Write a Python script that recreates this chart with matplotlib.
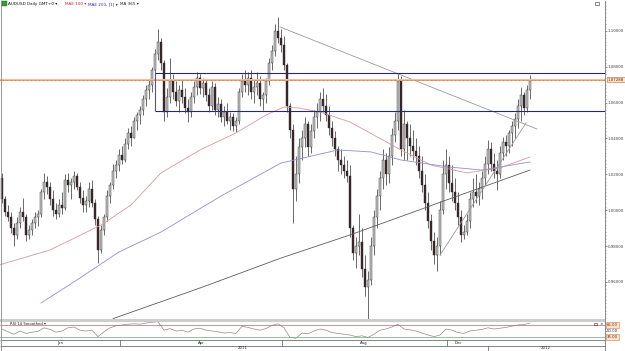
import matplotlib
matplotlib.use("Agg")
import matplotlib.pyplot as plt
from matplotlib.patches import Rectangle
from matplotlib.ticker import MultipleLocator, FixedLocator
import numpy as np

# ---------------- data (AUDUSD daily) ----------------
first_open = 1.018
high = [1.021, 1.008, 1.003, 0.999, 0.993, 0.996, 1.002, 1.007, 0.998, 0.992,
        0.995, 0.999, 1.000, 1.012, 1.021, 1.019, 1.016, 1.011, 1.004, 1.006,
        1.010, 1.020, 1.021, 1.018, 1.022, 1.021, 1.016, 1.011, 1.008, 1.016,
        1.017, 1.006, 0.997, 0.992, 0.998, 1.011, 1.016, 1.026, 1.028, 1.034,
        1.036, 1.040, 1.046, 1.047, 1.052, 1.055, 1.058, 1.064, 1.070, 1.073,
        1.080, 1.090, 1.101, 1.096, 1.084, 1.068, 1.085, 1.076, 1.072, 1.070,
        1.073, 1.068, 1.062, 1.066, 1.072, 1.077, 1.076, 1.074, 1.073, 1.068,
        1.072, 1.071, 1.063, 1.062, 1.058, 1.060, 1.055, 1.054, 1.052, 1.068,
        1.076, 1.078, 1.077, 1.078, 1.073, 1.077, 1.075, 1.066, 1.074, 1.085,
        1.092, 1.104, 1.108, 1.101, 1.097, 1.082, 1.060, 1.048, 1.030, 1.040,
        1.045, 1.052, 1.050, 1.048, 1.056, 1.060, 1.066, 1.068, 1.065, 1.058,
        1.050, 1.044, 1.036, 1.034, 1.030, 1.028, 1.025, 0.992, 0.985, 0.998,
        0.990, 0.975, 0.966, 0.985, 1.000, 1.012, 1.022, 1.034, 1.032, 1.035,
        1.046, 1.055, 1.0765, 1.075, 1.056, 1.050, 1.048, 1.045, 1.040, 1.036,
        1.030, 1.020, 1.010, 0.998, 0.988, 0.985, 1.005, 1.028, 1.034, 1.030,
        1.025, 1.018, 1.010, 1.000, 0.992, 0.998, 1.010, 1.018, 1.020, 1.016,
        1.022, 1.030, 1.039, 1.038, 1.032, 1.028, 1.036, 1.041, 1.042, 1.045,
        1.050, 1.054, 1.062, 1.069, 1.066, 1.070, 1.0755]
low = [1.004, 0.997, 0.994, 0.987, 0.980, 0.984, 0.990, 0.994, 0.983, 0.984,
       0.986, 0.990, 0.991, 0.996, 1.006, 1.009, 1.003, 0.997, 0.995, 0.996,
       0.998, 1.000, 1.010, 1.006, 1.012, 1.011, 1.004, 0.999, 0.999, 1.002,
       1.002, 0.992, 0.9707, 0.976, 0.986, 0.994, 1.004, 1.012, 1.018, 1.022,
       1.026, 1.027, 1.034, 1.036, 1.040, 1.045, 1.048, 1.053, 1.058, 1.062,
       1.066, 1.075, 1.084, 1.078, 1.050, 1.052, 1.060, 1.062, 1.058, 1.055,
       1.060, 1.054, 1.049, 1.052, 1.060, 1.064, 1.065, 1.063, 1.061, 1.055,
       1.056, 1.053, 1.052, 1.049, 1.047, 1.048, 1.045, 1.044, 1.0436, 1.048,
       1.063, 1.066, 1.064, 1.062, 1.060, 1.064, 1.058, 1.056, 1.060, 1.070,
       1.078, 1.086, 1.093, 1.088, 1.078, 1.055, 1.040, 0.993, 1.005, 1.015,
       1.028, 1.035, 1.030, 1.032, 1.040, 1.046, 1.050, 1.055, 1.050, 1.042,
       1.036, 1.030, 1.022, 1.020, 1.018, 1.016, 0.985, 0.972, 0.968, 0.975,
       0.963, 0.952, 0.9387, 0.958, 0.975, 0.990, 1.000, 1.012, 1.014, 1.015,
       1.025, 1.038, 1.045, 1.030, 1.028, 1.028, 1.030, 1.028, 1.025, 1.018,
       1.010, 1.000, 0.990, 0.978, 0.970, 0.966, 0.975, 0.998, 1.012, 1.010,
       1.005, 1.000, 0.992, 0.982, 0.984, 0.986, 0.990, 1.002, 1.004, 1.003,
       1.006, 1.014, 1.020, 1.022, 1.018, 1.011, 1.018, 1.028, 1.030, 1.032,
       1.036, 1.040, 1.046, 1.050, 1.053, 1.055, 1.062]
close = [1.006, 0.999, 0.996, 0.990, 0.986, 0.993, 0.999, 0.996, 0.986, 0.989,
         0.993, 0.996, 0.998, 1.010, 1.016, 1.013, 1.006, 1.000, 0.998, 1.003,
         1.001, 1.017, 1.014, 1.016, 1.019, 1.013, 1.007, 1.003, 1.005, 1.012,
         1.004, 0.995, 0.978, 0.989, 0.996, 1.008, 1.014, 1.022, 1.025, 1.031,
         1.028, 1.037, 1.043, 1.040, 1.050, 1.053, 1.056, 1.062, 1.067, 1.070,
         1.078, 1.087, 1.094, 1.082, 1.055, 1.063, 1.072, 1.066, 1.061, 1.067,
         1.063, 1.057, 1.055, 1.063, 1.069, 1.074, 1.068, 1.071, 1.064, 1.058,
         1.069, 1.056, 1.059, 1.052, 1.055, 1.050, 1.052, 1.047, 1.050, 1.066,
         1.072, 1.070, 1.074, 1.066, 1.069, 1.071, 1.062, 1.064, 1.072, 1.082,
         1.089, 1.100, 1.096, 1.092, 1.081, 1.058, 1.045, 1.012, 1.020, 1.035,
         1.040, 1.048, 1.035, 1.044, 1.052, 1.055, 1.062, 1.058, 1.053, 1.046,
         1.040, 1.034, 1.028, 1.025, 1.022, 1.019, 0.990, 0.976, 0.980, 0.982,
         0.967, 0.957, 0.961, 0.980, 0.996, 1.008, 1.018, 1.028, 1.020, 1.030,
         1.042, 1.050, 1.072, 1.034, 1.048, 1.040, 1.036, 1.033, 1.030, 1.022,
         1.014, 1.004, 0.994, 0.983, 0.975, 0.980, 1.000, 1.020, 1.025, 1.015,
         1.010, 1.004, 0.996, 0.986, 0.988, 0.994, 1.006, 1.010, 1.008, 1.012,
         1.018, 1.026, 1.034, 1.026, 1.022, 1.020, 1.032, 1.038, 1.036, 1.043,
         1.047, 1.051, 1.058, 1.064, 1.057, 1.067, 1.072]

# moving averages (bar index, price)
ma100_x = [-1, 16, 33, 43, 53, 66, 78, 88, 94, 99, 106, 116, 133, 143, 155, 166, 176]
ma100_v = [0.9694, 0.9778, 0.9917, 1.0029, 1.0208, 1.0336, 1.0431, 1.0531, 1.0576,
           1.0570, 1.0548, 1.0492, 1.0336, 1.0252, 1.0208, 1.0236, 1.0297]
ma200_x = [13, 25, 39, 53, 73, 93, 112, 123, 133, 149, 160, 176]
ma200_v = [0.9482, 0.9611, 0.9767, 0.9878, 1.0079, 1.0263, 1.0336, 1.0325, 1.0280,
           1.0241, 1.0224, 1.0269]
ma365_x = [37, 66, 93, 116, 139, 147, 176]
ma365_v = [0.9395, 0.9566, 0.9733, 0.9862, 1.0001, 1.0050, 1.0224]

# drawn studies
trend_down_x = [92.7, 178.3]
trend_down_v = [1.1022, 1.0453]
trend_up_x = [146, 174.7]
trend_up_v = [0.9750, 1.0487]
box_left = 51
box_top = 1.0766
box_bottom = 1.0554
resist = 1.0729
resist_label = "1.07288"

price_ticks = [0.96, 0.98, 1.00, 1.02, 1.04, 1.06, 1.08, 1.10]
price_tick_labels = ["0.96000", "0.98000", "1.00000", "1.02000", "1.04000",
                     "1.06000", "1.08000", "1.10000"]

# RSI 14 smoothed, every second bar
rsi_x = list(range(0, 177, 2))
rsi_v = [55, 48, 42, 50, 44, 47, 49, 58, 54, 47, 50, 58, 60, 52, 50, 52, 36, 48, 58, 63,
         65, 67, 68, 67, 70, 72, 73, 52, 56, 50, 52, 47, 55, 57, 52, 50, 48, 45, 46, 44,
         62, 59, 55, 52, 56, 64, 68, 58, 34, 32, 45, 43, 50, 55, 52, 46, 44, 42, 40, 36,
         38, 34, 42, 52, 55, 60, 67, 55, 53, 50, 45, 40, 36, 40, 55, 52, 46, 44, 50, 52,
         54, 58, 55, 57, 59, 62, 65, 66, 70]

time_row1 = ["Jan", "Apr", "Aug", "Dec"]
time_row2 = ["2011", "2012"]

# ---------------- figure ----------------
W, H = 625, 351
fig = plt.figure(figsize=(W / 100, H / 100), dpi=100)
fig.patch.set_facecolor("white")

XL = (-2 / 3, 603 / 3)

ax = fig.add_axes([0, 1 - 319 / H, 605 / W, 318 / H])
ax.set_xlim(*XL)
ax.set_ylim(0.9393, 1.1167)
ax.set_facecolor("white")

opens = np.array([first_open] + close[:-1])
c = np.array(close)
h = np.maximum.reduce([np.array(high), opens, c])
l = np.minimum.reduce([np.array(low), opens, c])
idx = np.arange(len(close))
up = c >= opens
ax.vlines(idx, l, h, color="#2e2e2e", lw=0.5, zorder=3)
body_h = np.maximum(np.abs(c - opens), 0.0005)
ax.bar(idx, body_h, bottom=np.minimum(opens, c), width=0.62,
       color=np.where(up, "#c4c4c4", "#3c2424"), edgecolor="#2e2e2e",
       linewidth=0.3, zorder=4)

ax.plot(ma100_x, ma100_v, color="#d59b9b", lw=0.6, zorder=5)
ax.plot(ma200_x, ma200_v, color="#9090c8", lw=0.6, zorder=5)
ax.plot(ma365_x, ma365_v, color="#5c5c6c", lw=0.6, zorder=5)
ax.plot(trend_down_x, trend_down_v, color="#9a9a9a", lw=0.6, zorder=5)
ax.plot(trend_up_x, trend_up_v, color="#9a9a9a", lw=0.6, zorder=5)

ax.axhline(resist, color="#f2bf9c", lw=1.5, zorder=6)
ax.axhline(resist, color="#c8602a", lw=0.6, ls=(0, (0.8, 0.8)), zorder=6)
ax.hlines([box_top, box_bottom], box_left, XL[1], color="#262680", lw=0.8, zorder=6)
ax.vlines(box_left, box_bottom, box_top, color="#5050a8", lw=0.8, zorder=6)

ax.yaxis.tick_right()
ax.yaxis.set_major_locator(FixedLocator(price_ticks))
ax.set_yticklabels(price_tick_labels)
ax.yaxis.set_minor_locator(MultipleLocator(0.002))
ax.tick_params(axis="y", which="major", labelsize=2.9, length=1.6, width=0.4,
               pad=0.6, colors="#444444")
ax.tick_params(axis="y", which="minor", length=0.9, width=0.4, color="#777777")
ax.set_xticks([])
for s in ["top", "bottom", "left"]:
    ax.spines[s].set_visible(False)
ax.spines["right"].set_color("#777777")
ax.spines["right"].set_linewidth(0.6)

ax.text(1.0045, resist, resist_label, transform=ax.get_yaxis_transform(),
        fontsize=2.8, va="center", ha="left", color="#5a3010", clip_on=False,
        bbox=dict(boxstyle="square,pad=0.2", fc="#fbe2cf", ec="#d08050", lw=0.5),
        zorder=10)

# RSI panel
ax2 = fig.add_axes([0, 1 - 339.5 / H, 605 / W, 17.5 / H])
ax2.set_xlim(*XL)
ax2.set_ylim(28.75, 72.5)
ax2.plot(rsi_x, rsi_v, color="#8c8c8c", lw=0.5)
ax2.axhline(65, color="#b06a6a", lw=0.5)
ax2.axhline(35, color="#6aa86a", lw=0.5)
ax2.set_xticks([])
ax2.set_yticks([])
for s in ax2.spines.values():
    s.set_visible(False)

# overlay for frame, headers and time scale
ov = fig.add_axes([0, 0, 1, 1])
ov.set_xlim(0, W)
ov.set_ylim(H, 0)
ov.axis("off")
ov.patch.set_alpha(0)

ov.add_patch(Rectangle((0, 319), 605, 3, fc="#cdcdcd", ec="none"))
ov.hlines([339.5, 345.7, 350.6], 0, 605, color="#555555", lw=0.5)
ov.vlines([120, 282, 447], 339.5, 345.7, color="#555555", lw=0.5)
ov.vlines([488], 345.7, 350.6, color="#555555", lw=0.5)
ov.vlines(0.6, 0, H, color="#888888", lw=0.6)
ov.vlines(605.3, 319, H, color="#777777", lw=0.6)

fs_t = 2.8
for lab, xp in zip(time_row1, [60, 201, 364, 455]):
    ov.text(xp, 342.8, lab, fontsize=fs_t, ha="center" if lab != "Dec" else "left",
            va="center", color="#222222")
for lab, xp in zip(time_row2, [243, 546]):
    ov.text(xp, 348.3, lab, fontsize=fs_t, ha="center", va="center", color="#222222")

# header
fs_h = 2.95
ov.add_patch(Rectangle((2, 1.2), 4.5, 5, fc="#3a9a3a", ec="#226622", lw=0.3))
ov.text(7.5, 4, "AUDUSD Daily GMT+0 \u25be", fontsize=fs_h, va="center", color="#111111")
ov.text(65, 4, "MAE 100 \u25be", fontsize=fs_h, va="center", color="#c03030")
ov.text(88, 4, "MAE 200, [1] \u25be", fontsize=fs_h, va="center", color="#3030a0")
ov.text(120, 4, "MA 365 \u25be", fontsize=fs_h, va="center", color="#222222")
ov.add_patch(Rectangle((595, 1.5), 4, 3, fc="none", ec="#333333", lw=0.4))

ov.text(10, 324, "RSI 14 Smoothed \u25be", fontsize=2.7, va="center", color="#222222")
ov.add_patch(Rectangle((594, 322.8), 3, 2.6, fc="none", ec="#333333", lw=0.4))
ov.text(599, 324, "\u00d7", fontsize=3, va="center", color="#222222")

for val, yp, boxed in [("65.00", 325, True), ("50.00", 331, False), ("35.00", 337, True)]:
    if boxed:
        ov.text(607, yp, val, fontsize=2.8, va="center", color="#5a3010",
                bbox=dict(boxstyle="square,pad=0.2", fc="#fbe2cf", ec="#d08050", lw=0.4))
    else:
        ov.text(607, yp, val, fontsize=2.8, va="center", color="#333333")
        ov.hlines(yp, 605, 606.5, color="#555555", lw=0.4)

fig.savefig("out.png", dpi=100, facecolor="white")
